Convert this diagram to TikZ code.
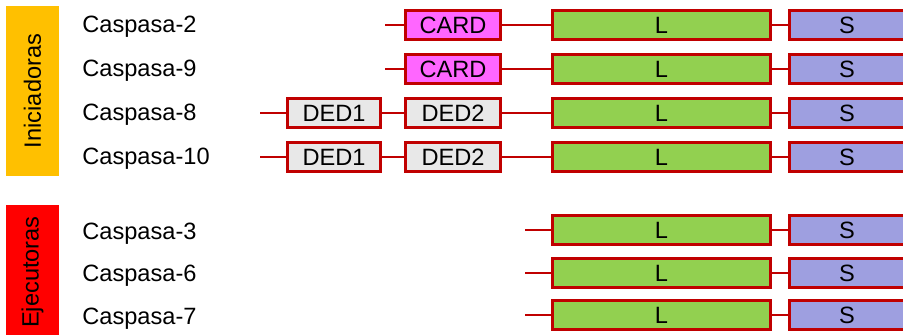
\documentclass[tikz,border=0pt]{standalone}
\usepackage{fontspec}
\setmainfont{Liberation Sans}
\definecolor{borde}{HTML}{C00000}
\definecolor{naranja}{HTML}{FFC000}
\definecolor{rojo}{HTML}{FF0000}
\definecolor{rosa}{HTML}{FF66FF}
\definecolor{gris}{HTML}{E8E8E8}
\definecolor{verde}{HTML}{92D050}
\definecolor{lila}{HTML}{9E9FE0}
\tikzset{
  texto/.style={font=\fontsize{11.8}{14}\selectfont},
  etiqueta/.style={texto,anchor=west,inner sep=0pt,
    text height=0.716em,text depth=0pt},
  grupo/.style={texto,rotate=90,inner sep=0pt,
    minimum height=26.5pt},
  dominio/.style={texto,draw=borde,line width=1.4pt,anchor=west,
    inner sep=0pt,minimum height=14.6pt},
  card/.style={dominio,fill=rosa,minimum width=47.6pt},
  dedA/.style={dominio,fill=gris,minimum width=46.6pt},
  dedB/.style={dominio,fill=gris,minimum width=47.6pt},
  largo/.style={dominio,fill=verde,minimum width=109.1pt},
  corto/.style={dominio,fill=lila,minimum width=57.6pt},
  enlace/.style={draw=borde,line width=1.2pt}
}
\begin{document}
\begin{tikzpicture}[x=0.5pt,y=-0.5pt]
\useasboundingbox (0,0) rectangle (903,335);
\clip (0,0) rectangle (903,335);
% grupos
\node [grupo,fill=naranja,minimum width=85pt] (ini) at (32.5,91) {Iniciadoras};
\node [grupo,fill=rojo,minimum width=67pt] (eje) at (32.5,272) {Ejecutoras};
% nombres
\node [etiqueta] (c2) at (82,25) {Caspasa-2};
\node [etiqueta] (c9) at (82,69) {Caspasa-9};
\node [etiqueta] (c8) at (82,113) {Caspasa-8};
\node [etiqueta] (c10) at (82,157) {Caspasa-10};
\node [etiqueta] (c3) at (82,232) {Caspasa-3};
\node [etiqueta] (c6) at (82,274) {Caspasa-6};
\node [etiqueta] (c7) at (82,317) {Caspasa-7};
% extremos libres
\coordinate (e2) at (385,25);
\coordinate (e9) at (385,69);
\coordinate (e8) at (260,113);
\coordinate (e10) at (260,157);
\coordinate (e3) at (525,230);
\coordinate (e6) at (525,273);
\coordinate (e7) at (525,315);
% dominios
\node [card] (card2) at (404,25) {CARD};
\node [card] (card9) at (404,69) {CARD};
\node [dedA] (dedA8) at (286,113) {DED1};
\node [dedB] (dedB8) at (404,113) {DED2};
\node [dedA] (dedA10) at (286,157) {DED1};
\node [dedB] (dedB10) at (404,157) {DED2};
\foreach \n/\y in {2/25,9/69,8/113,10/157,3/230,6/273,7/315}{
  \node [largo] (l\n) at (551,\y) {L};
  \node [corto] (s\n) at (788,\y) {S};
  \draw [enlace] (l\n.east) -- (s\n.west);
}
% conectores
\draw [enlace] (e2) -- (card2.west) (card2.east) -- (l2.west);
\draw [enlace] (e9) -- (card9.west) (card9.east) -- (l9.west);
\draw [enlace] (e8) -- (dedA8.west) (dedA8.east) -- (dedB8.west)
  (dedB8.east) -- (l8.west);
\draw [enlace] (e10) -- (dedA10.west) (dedA10.east) -- (dedB10.west)
  (dedB10.east) -- (l10.west);
\draw [enlace] (e3) -- (l3.west);
\draw [enlace] (e6) -- (l6.west);
\draw [enlace] (e7) -- (l7.west);
\end{tikzpicture}
\end{document}
